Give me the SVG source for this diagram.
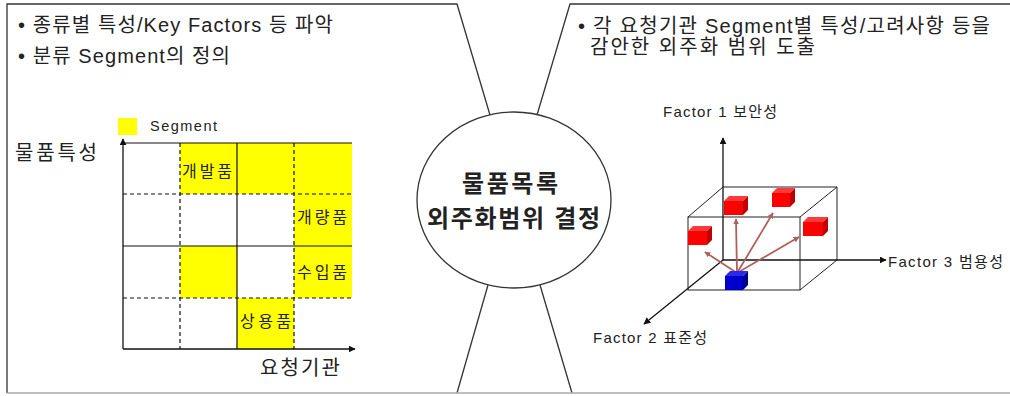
<svg xmlns="http://www.w3.org/2000/svg" width="1010" height="396" viewBox="0 0 1010 396">
<style>
.t{font-family:"Liberation Sans","Noto Sans CJK KR",sans-serif;fill:#222}
.frame{fill:none;stroke:#333;stroke-width:1.3}
.grid{stroke:#111;stroke-width:1.2;fill:none}
.dash{stroke:#111;stroke-width:1.2;stroke-dasharray:4 3;fill:none}
.ax{stroke:#111;stroke-width:1.3;fill:none}
.box{stroke:#222;stroke-width:1;fill:none}
.ra{stroke:#b0605a;stroke-width:1.8;fill:none}
.y{fill:#ffff00}
</style>
<defs>
<marker id="ah" viewBox="0 0 10 10" refX="9" refY="5" markerWidth="7" markerHeight="7" orient="auto" markerUnits="userSpaceOnUse">
<path d="M0,0 L10,5 L0,10 z" fill="#111"/>
</marker>
<marker id="rh" viewBox="0 0 10 10" refX="9" refY="5" markerWidth="6" markerHeight="6" orient="auto" markerUnits="userSpaceOnUse">
<path d="M0,0 L10,5 L0,10 z" fill="#b0605a"/>
</marker>
</defs>

<g id="frame">
<polyline class="frame" points="490,115 457,4 7,4 7,393"/>
<polyline class="frame" points="537,115 570,4 1010,4"/>
<line class="frame" x1="488" y1="285" x2="457" y2="393"/>
<line class="frame" x1="540" y1="285" x2="572" y2="393"/>
<line x1="7" y1="393" x2="1010" y2="393" stroke="#aaa" stroke-width="1.3"/>
</g>

<g id="left-panel">
<text class="t" x="18" y="32" font-size="20" textLength="315" lengthAdjust="spacing">• 종류별 특성/Key  Factors 등 파악</text>
<text class="t" x="18" y="63" font-size="20" textLength="212" lengthAdjust="spacing">• 분류 Segment의 정의</text>
<rect class="y" x="118" y="118" width="19" height="17"/>
<text class="t" x="150" y="131" font-size="14.5" textLength="67" lengthAdjust="spacing">Segment</text>
<text class="t" x="15" y="160" font-size="20" textLength="82" lengthAdjust="spacing">물품특성</text>
<text class="t" x="260" y="375" font-size="20" textLength="80" lengthAdjust="spacing">요청기관</text>
</g>

<g id="matrix">
<rect class="y" x="180" y="143" width="172" height="51"/>
<rect class="y" x="294" y="194" width="58" height="104"/>
<rect class="y" x="180" y="246" width="57" height="52"/>
<rect class="y" x="237" y="298" width="57" height="51"/>
<line class="grid" x1="123" y1="143" x2="352" y2="143"/>
<line class="grid" x1="123" y1="246" x2="352" y2="246"/>
<line class="grid" x1="237" y1="143" x2="237" y2="349"/>
<line class="dash" x1="123" y1="194" x2="352" y2="194"/>
<line class="dash" x1="123" y1="298" x2="352" y2="298"/>
<line class="dash" x1="180" y1="143" x2="180" y2="349"/>
<line class="dash" x1="294" y1="143" x2="294" y2="349"/>
<line class="ax" x1="123" y1="349" x2="123" y2="139" marker-end="url(#ah)"/>
<line class="ax" x1="123" y1="349" x2="355" y2="349" marker-end="url(#ah)"/>
<text class="t" x="182" y="177" font-size="16" textLength="50" lengthAdjust="spacing">개발품</text>
<text class="t" x="297" y="223" font-size="16" textLength="50" lengthAdjust="spacing">개량품</text>
<text class="t" x="297" y="278" font-size="16" textLength="50" lengthAdjust="spacing">수입품</text>
<text class="t" x="240" y="327" font-size="16" textLength="51" lengthAdjust="spacing">상용품</text>
</g>

<g id="center">
<ellipse cx="514" cy="200" rx="97" ry="88" fill="#fff" stroke="#333" stroke-width="1.3"/>
<text class="t" x="462" y="192" font-size="24" font-weight="bold" textLength="96" lengthAdjust="spacing" fill="#111">물품목록</text>
<text class="t" x="427" y="227" font-size="24" font-weight="bold" textLength="173" lengthAdjust="spacing" fill="#111">외주화범위 결정</text>
</g>

<g id="right-panel">
<text class="t" x="578" y="33" font-size="20" textLength="412" lengthAdjust="spacing">• 각 요청기관 Segment별 특성/고려사항 등을</text>
<text class="t" x="590" y="54" font-size="20" textLength="225" lengthAdjust="spacing">감안한 외주화 범위 도출</text>
<text class="t" x="663" y="117" font-size="15" textLength="114" lengthAdjust="spacing">Factor 1 보안성</text>
<text class="t" x="888" y="267" font-size="15" textLength="115" lengthAdjust="spacing">Factor 3 범용성</text>
<text class="t" x="593" y="343" font-size="15" textLength="114" lengthAdjust="spacing">Factor 2 표준성</text>
</g>

<g id="cube-diagram">
<rect class="box" x="688" y="217" width="112" height="73"/>
<line class="box" x1="723" y1="187" x2="837" y2="187"/>
<line class="box" x1="837" y1="187" x2="837" y2="260"/>
<line class="box" x1="688" y1="217" x2="723" y2="187"/>
<line class="box" x1="800" y1="217" x2="837" y2="187"/>
<line class="box" x1="800" y1="290" x2="837" y2="260"/>
<line class="ax" x1="723" y1="260" x2="723" y2="138" marker-end="url(#ah)"/>
<line class="ax" x1="723" y1="260" x2="886" y2="260" marker-end="url(#ah)"/>
<line class="ax" x1="723" y1="260" x2="644" y2="324" marker-end="url(#ah)"/>
</g>

<g id="connectors">
<line class="ra" x1="737" y1="273" x2="705" y2="252" marker-end="url(#rh)"/>
<line class="ra" x1="737" y1="273" x2="736" y2="219" marker-end="url(#rh)"/>
<line class="ra" x1="737" y1="273" x2="773" y2="213" marker-end="url(#rh)"/>
<line class="ra" x1="737" y1="273" x2="799" y2="237" marker-end="url(#rh)"/>
</g>

<g id="red-cube-1">
<rect x="688" y="231" width="19" height="14" fill="#ff0000"/>
<polygon points="688,231 693,226 712,226 707,231" fill="#ff3a3a"/>
<polygon points="707,231 712,226 712,240 707,245" fill="#c00000"/>
</g>
<g id="red-cube-2">
<rect x="724" y="201" width="19" height="14" fill="#ff0000"/>
<polygon points="724,201 729,196 748,196 743,201" fill="#ff3a3a"/>
<polygon points="743,201 748,196 748,210 743,215" fill="#c00000"/>
</g>
<g id="red-cube-3">
<rect x="772" y="193" width="18" height="14" fill="#ff0000"/>
<polygon points="772,193 777,188 795,188 790,193" fill="#ff3a3a"/>
<polygon points="790,193 795,188 795,202 790,207" fill="#c00000"/>
</g>
<g id="red-cube-4">
<rect x="803" y="222" width="20" height="14" fill="#ff0000"/>
<polygon points="803,222 808,217 828,217 823,222" fill="#ff3a3a"/>
<polygon points="823,222 828,217 828,231 823,236" fill="#c00000"/>
</g>
<g id="blue-cube">
<rect x="725" y="276" width="18" height="14" fill="#0000cc"/>
<polygon points="725,276 730,271 748,271 743,276" fill="#2a2aee"/>
<polygon points="743,276 748,271 748,285 743,290" fill="#000090"/>
</g>
</svg>
